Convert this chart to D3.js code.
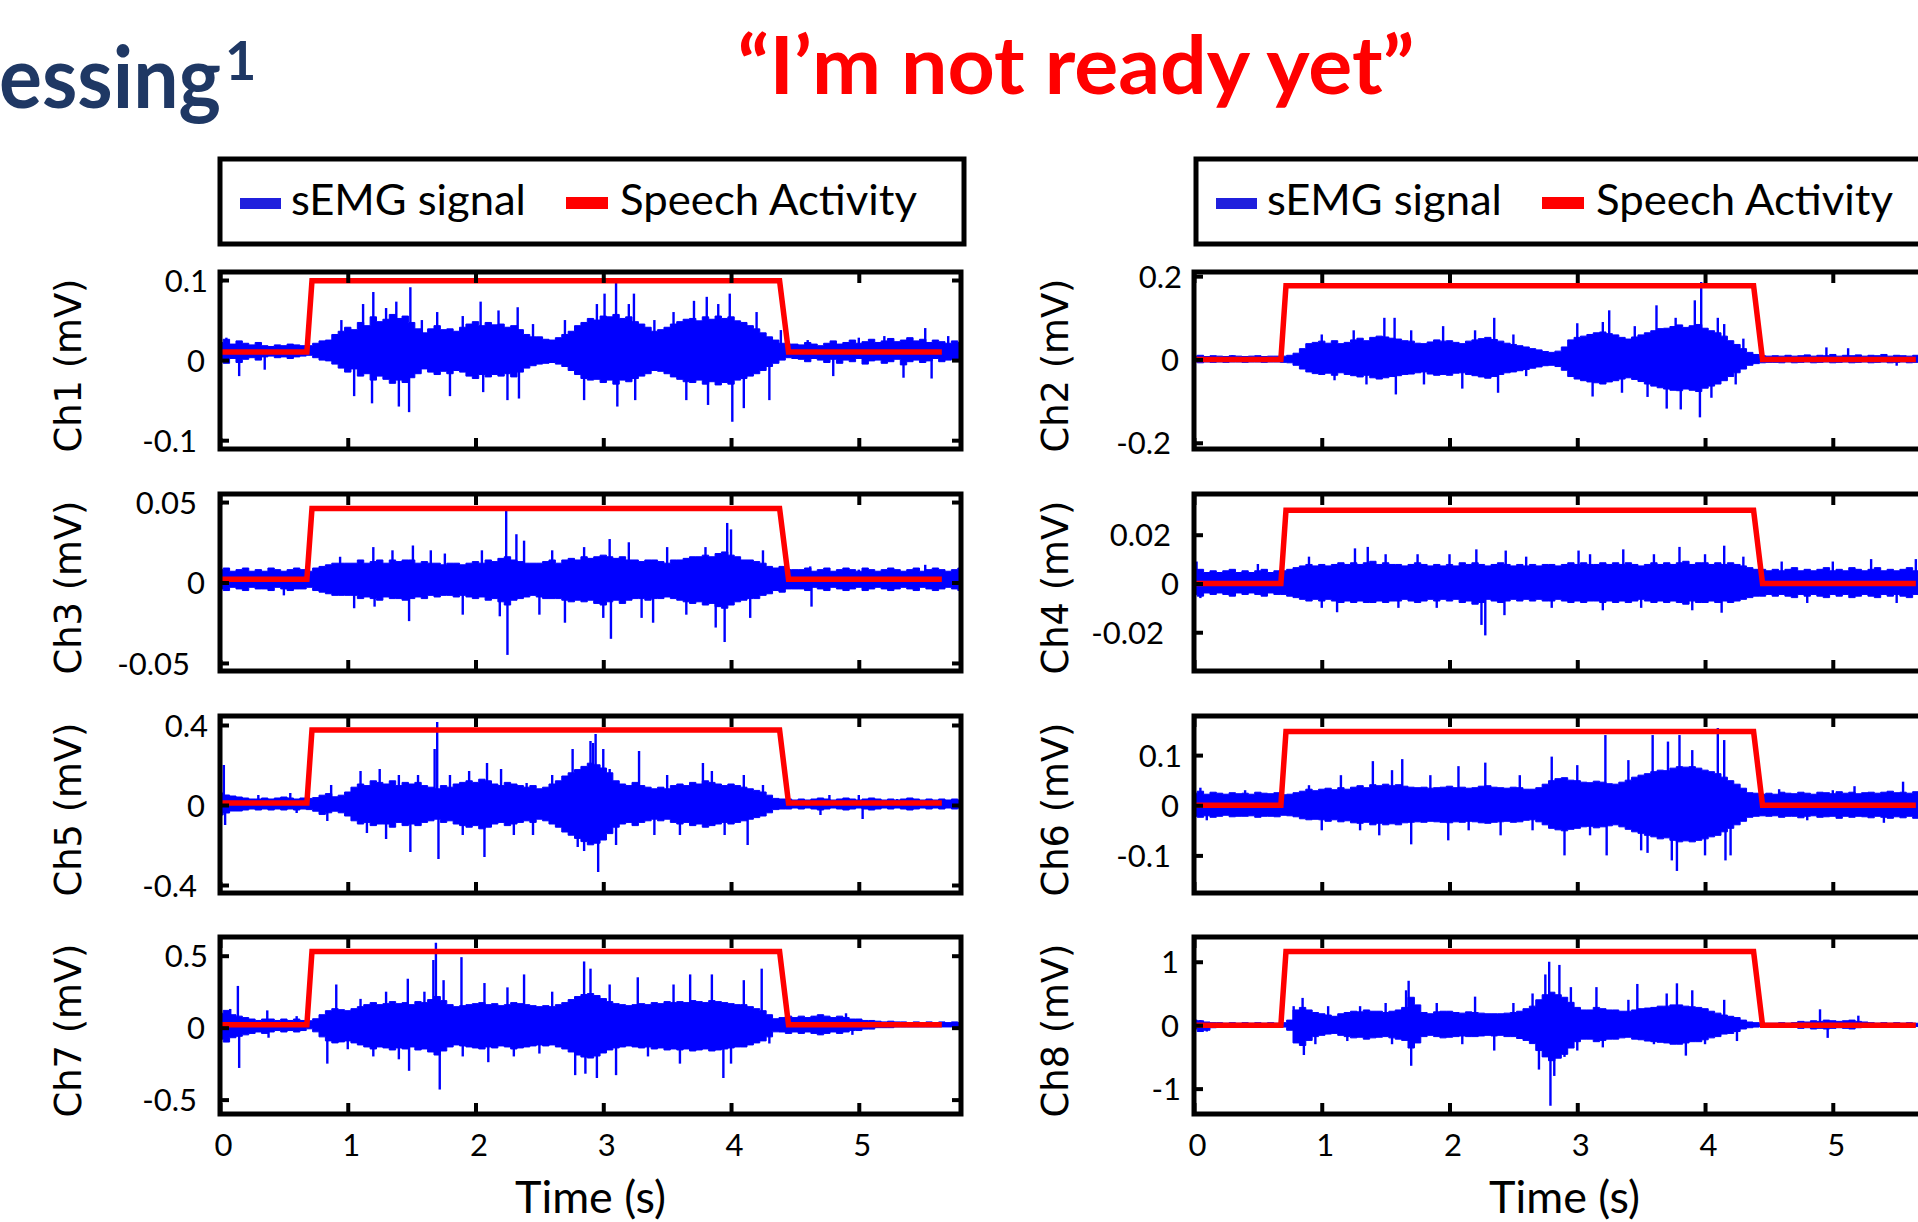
<!DOCTYPE html>
<html><head><meta charset="utf-8">
<script src="https://cdn.jsdelivr.net/npm/d3@7"></script>
<style>body{margin:0;background:#fff;overflow:hidden}svg{display:block}</style>
</head><body>
<svg id="chart" width="1918" height="1222"></svg>
<script>
// ---------------- DATA ----------------
const channels = ["Ch1","Ch2","Ch3","Ch4","Ch5","Ch6","Ch7","Ch8"];
const timeTicks = [0,1,2,3,4,5];
const timeDomain = [0,5.8];
const yTicks = [[-0.1,0,0.1],[-0.2,0,0.2],[-0.05,0,0.05],[-0.02,0,0.02],[-0.4,0,0.4],[-0.1,0,0.1],[-0.5,0,0.5],[-1,0,1]];
const yDomains = [[-0.111,0.11],[-0.215,0.21],[-0.055,0.055],[-0.0359,0.0367],[-0.44,0.445],[-0.175,0.178],[-0.6,0.63],[-1.4,1.39]];
const baselines = [0.012,0,0.002,0,0.005,0,0.02,0];
const speechTimes = [0,0.68,0.72,4.38,4.45,5.65];
const speechOn = [0,0,1,1,0,0];
const speechLow = [0.01,0,0.002,0,0.01,0,0.02,0];
const speechHigh = [0.099,0.177,0.046,0.030,0.375,0.147,0.53,1.16];

// per-0.05 s upper / lower extent of the dense trace (mV)
const fringeTimes = [0,0.05,0.1,0.15,0.2,0.25,0.3,0.35,0.4,0.45,0.5,0.55,0.6,0.65,0.7,0.75,0.8,0.85,0.9,0.95,1,1.05,1.1,1.15,1.2,1.25,1.3,1.35,1.4,1.45,1.5,1.55,1.6,1.65,1.7,1.75,1.8,1.85,1.9,1.95,2,2.05,2.1,2.15,2.2,2.25,2.3,2.35,2.4,2.45,2.5,2.55,2.6,2.65,2.7,2.75,2.8,2.85,2.9,2.95,3,3.05,3.1,3.15,3.2,3.25,3.3,3.35,3.4,3.45,3.5,3.55,3.6,3.65,3.7,3.75,3.8,3.85,3.9,3.95,4,4.05,4.1,4.15,4.2,4.25,4.3,4.35,4.4,4.45,4.5,4.55,4.6,4.65,4.7,4.75,4.8,4.85,4.9,4.95,5,5.05,5.1,5.15,5.2,5.25,5.3,5.35,5.4,5.45,5.5,5.55,5.6,5.65,5.7,5.75,5.8];
const ch1Max = [0.022,0.026,0.020,0.024,0.021,0.019,0.022,0.018,0.017,0.019,0.018,0.020,0.019,0.018,0.018,0.021,0.024,0.025,0.032,0.036,0.041,0.038,0.047,0.043,0.054,0.048,0.051,0.057,0.052,0.055,0.047,0.039,0.034,0.039,0.043,0.038,0.039,0.036,0.041,0.045,0.048,0.043,0.047,0.044,0.045,0.041,0.043,0.038,0.032,0.029,0.029,0.026,0.025,0.028,0.032,0.036,0.043,0.047,0.052,0.050,0.055,0.054,0.057,0.052,0.054,0.048,0.045,0.041,0.036,0.038,0.041,0.045,0.048,0.051,0.052,0.049,0.054,0.051,0.055,0.052,0.054,0.049,0.047,0.043,0.039,0.034,0.029,0.025,0.021,0.020,0.020,0.019,0.022,0.020,0.018,0.021,0.024,0.020,0.022,0.025,0.021,0.023,0.026,0.022,0.024,0.027,0.023,0.025,0.028,0.024,0.026,0.022,0.025,0.023,0.021,0.024,0.022];
const ch1Min = [0.000,-0.004,0.002,-0.003,0.001,0.003,0.000,0.004,0.005,0.003,0.004,0.002,0.004,0.005,0.006,0.003,0.000,-0.001,-0.005,-0.010,-0.015,-0.011,-0.020,-0.017,-0.025,-0.020,-0.024,-0.029,-0.025,-0.028,-0.022,-0.017,-0.011,-0.015,-0.018,-0.014,-0.017,-0.013,-0.015,-0.020,-0.023,-0.018,-0.021,-0.018,-0.020,-0.017,-0.021,-0.015,-0.010,-0.007,-0.005,-0.004,-0.003,-0.005,-0.008,-0.013,-0.018,-0.023,-0.025,-0.024,-0.028,-0.025,-0.030,-0.025,-0.027,-0.023,-0.020,-0.017,-0.013,-0.014,-0.017,-0.021,-0.024,-0.027,-0.028,-0.025,-0.030,-0.027,-0.031,-0.028,-0.030,-0.025,-0.023,-0.020,-0.017,-0.013,-0.008,-0.004,0.000,0.003,0.002,0.001,-0.002,0.002,0.000,-0.003,0.001,-0.004,0.000,-0.002,0.002,-0.005,-0.001,0.000,-0.004,-0.002,0.001,-0.006,-0.002,0.000,-0.003,-0.001,0.002,-0.002,0.000,0.001,-0.001];
const ch2Max = [0.008,0.010,0.007,0.009,0.008,0.007,0.009,0.008,0.007,0.008,0.009,0.007,0.008,0.008,0.008,0.010,0.015,0.026,0.038,0.041,0.044,0.039,0.045,0.038,0.041,0.047,0.051,0.045,0.053,0.056,0.054,0.051,0.049,0.045,0.044,0.039,0.038,0.042,0.047,0.044,0.045,0.041,0.038,0.044,0.047,0.050,0.053,0.048,0.044,0.039,0.036,0.033,0.030,0.026,0.023,0.019,0.017,0.020,0.030,0.047,0.053,0.056,0.060,0.064,0.066,0.062,0.059,0.053,0.049,0.054,0.059,0.064,0.069,0.074,0.075,0.079,0.083,0.077,0.081,0.084,0.075,0.069,0.064,0.056,0.045,0.036,0.026,0.017,0.012,0.009,0.008,0.009,0.008,0.010,0.008,0.009,0.011,0.008,0.010,0.009,0.012,0.008,0.010,0.009,0.011,0.008,0.010,0.009,0.012,0.008,0.010,0.009,0.008,0.010,0.009,0.008,0.010];
const ch2Min = [-0.006,-0.008,-0.006,-0.007,-0.006,-0.007,-0.006,-0.006,-0.007,-0.006,-0.006,-0.007,-0.006,-0.006,-0.007,-0.008,-0.014,-0.023,-0.030,-0.034,-0.036,-0.033,-0.038,-0.032,-0.036,-0.039,-0.042,-0.038,-0.044,-0.047,-0.044,-0.041,-0.039,-0.036,-0.035,-0.032,-0.030,-0.035,-0.038,-0.036,-0.038,-0.033,-0.032,-0.036,-0.039,-0.042,-0.045,-0.041,-0.036,-0.032,-0.030,-0.027,-0.024,-0.021,-0.018,-0.015,-0.014,-0.017,-0.026,-0.041,-0.047,-0.051,-0.054,-0.056,-0.059,-0.054,-0.051,-0.047,-0.044,-0.048,-0.053,-0.059,-0.064,-0.068,-0.071,-0.074,-0.075,-0.071,-0.074,-0.077,-0.069,-0.064,-0.059,-0.051,-0.041,-0.032,-0.023,-0.014,-0.010,-0.008,-0.007,-0.007,-0.008,-0.006,-0.008,-0.007,-0.006,-0.008,-0.007,-0.006,-0.008,-0.007,-0.006,-0.008,-0.007,-0.006,-0.008,-0.007,-0.006,-0.008,-0.007,-0.006,-0.008,-0.007,-0.006,-0.008,-0.007];
const ch3Max = [0.008,0.009,0.007,0.008,0.009,0.007,0.008,0.007,0.009,0.008,0.007,0.008,0.009,0.008,0.007,0.009,0.010,0.011,0.012,0.012,0.012,0.012,0.014,0.012,0.013,0.014,0.012,0.014,0.013,0.014,0.014,0.012,0.013,0.012,0.012,0.011,0.012,0.012,0.011,0.012,0.013,0.012,0.014,0.013,0.015,0.016,0.014,0.013,0.012,0.012,0.012,0.013,0.014,0.012,0.014,0.015,0.014,0.016,0.015,0.016,0.017,0.016,0.015,0.016,0.014,0.014,0.013,0.014,0.014,0.013,0.012,0.014,0.014,0.015,0.016,0.016,0.017,0.016,0.018,0.019,0.017,0.016,0.014,0.014,0.013,0.012,0.010,0.009,0.010,0.008,0.008,0.008,0.009,0.007,0.008,0.009,0.007,0.008,0.009,0.008,0.007,0.009,0.008,0.007,0.008,0.009,0.008,0.007,0.008,0.009,0.007,0.008,0.009,0.008,0.007,0.008,0.009];
const ch3Min = [-0.004,-0.005,-0.003,-0.004,-0.005,-0.003,-0.004,-0.004,-0.005,-0.003,-0.004,-0.005,-0.004,-0.004,-0.003,-0.005,-0.006,-0.007,-0.008,-0.008,-0.008,-0.008,-0.010,-0.009,-0.010,-0.011,-0.009,-0.010,-0.010,-0.011,-0.010,-0.009,-0.010,-0.008,-0.009,-0.008,-0.008,-0.009,-0.008,-0.009,-0.010,-0.009,-0.011,-0.010,-0.012,-0.014,-0.011,-0.010,-0.009,-0.008,-0.009,-0.010,-0.010,-0.010,-0.011,-0.012,-0.011,-0.012,-0.011,-0.013,-0.014,-0.012,-0.011,-0.013,-0.011,-0.010,-0.010,-0.011,-0.010,-0.010,-0.009,-0.010,-0.011,-0.012,-0.013,-0.012,-0.014,-0.013,-0.015,-0.016,-0.014,-0.012,-0.011,-0.010,-0.010,-0.008,-0.007,-0.005,-0.006,-0.004,-0.004,-0.004,-0.005,-0.003,-0.004,-0.005,-0.003,-0.004,-0.005,-0.004,-0.003,-0.005,-0.004,-0.003,-0.004,-0.005,-0.004,-0.003,-0.004,-0.005,-0.003,-0.004,-0.005,-0.004,-0.003,-0.004,-0.005];
const ch4Max = [0.0052,0.0058,0.0045,0.0052,0.0045,0.0052,0.0058,0.0045,0.0052,0.0045,0.0052,0.0058,0.0045,0.0052,0.0052,0.0058,0.0065,0.0072,0.0078,0.0072,0.0078,0.0072,0.0078,0.0085,0.0078,0.0085,0.0078,0.0085,0.0091,0.0078,0.0085,0.0078,0.0078,0.0072,0.0078,0.0085,0.0078,0.0072,0.0078,0.0072,0.0078,0.0072,0.0085,0.0078,0.0085,0.0078,0.0072,0.0078,0.0085,0.0078,0.0072,0.0078,0.0072,0.0078,0.0072,0.0078,0.0078,0.0072,0.0078,0.0085,0.0078,0.0085,0.0078,0.0078,0.0085,0.0078,0.0085,0.0078,0.0085,0.0078,0.0072,0.0078,0.0085,0.0078,0.0085,0.0078,0.0085,0.0091,0.0078,0.0085,0.0085,0.0078,0.0085,0.0078,0.0085,0.0078,0.0072,0.0065,0.0058,0.0058,0.0052,0.0058,0.0052,0.0058,0.0065,0.0052,0.0058,0.0052,0.0058,0.0065,0.0052,0.0058,0.0052,0.0065,0.0058,0.0052,0.0058,0.0065,0.0052,0.0058,0.0052,0.0058,0.0065,0.0052,0.0058,0.0052,0.0058];
const ch4Min = [-0.0045,-0.0052,-0.0039,-0.0045,-0.0039,-0.0045,-0.0052,-0.0039,-0.0045,-0.0039,-0.0045,-0.0052,-0.0039,-0.0045,-0.0045,-0.0052,-0.0058,-0.0065,-0.0072,-0.0065,-0.0072,-0.0065,-0.0072,-0.0078,-0.0072,-0.0078,-0.0072,-0.0078,-0.0078,-0.0072,-0.0078,-0.0072,-0.0072,-0.0065,-0.0072,-0.0078,-0.0072,-0.0065,-0.0072,-0.0065,-0.0072,-0.0065,-0.0078,-0.0072,-0.0085,-0.0078,-0.0065,-0.0072,-0.0078,-0.0072,-0.0065,-0.0072,-0.0065,-0.0072,-0.0065,-0.0072,-0.0072,-0.0065,-0.0072,-0.0078,-0.0072,-0.0078,-0.0072,-0.0072,-0.0078,-0.0072,-0.0078,-0.0072,-0.0078,-0.0072,-0.0065,-0.0072,-0.0078,-0.0072,-0.0078,-0.0072,-0.0078,-0.0085,-0.0072,-0.0078,-0.0078,-0.0072,-0.0078,-0.0072,-0.0078,-0.0072,-0.0065,-0.0058,-0.0052,-0.0052,-0.0045,-0.0052,-0.0045,-0.0052,-0.0058,-0.0045,-0.0052,-0.0045,-0.0052,-0.0058,-0.0045,-0.0052,-0.0045,-0.0058,-0.0052,-0.0045,-0.0052,-0.0058,-0.0045,-0.0052,-0.0045,-0.0052,-0.0058,-0.0045,-0.0052,-0.0045,-0.0052];
const ch5Max = [0.06,0.05,0.045,0.04,0.035,0.03,0.03,0.035,0.03,0.035,0.04,0.035,0.03,0.035,0.033,0.037,0.049,0.057,0.041,0.049,0.065,0.089,0.105,0.097,0.121,0.113,0.105,0.121,0.097,0.113,0.105,0.113,0.097,0.089,0.081,0.097,0.089,0.105,0.113,0.121,0.113,0.129,0.121,0.105,0.097,0.113,0.105,0.097,0.089,0.097,0.081,0.089,0.105,0.121,0.145,0.161,0.177,0.193,0.209,0.201,0.185,0.161,0.121,0.105,0.097,0.113,0.097,0.089,0.081,0.089,0.081,0.097,0.105,0.097,0.113,0.105,0.121,0.113,0.105,0.097,0.105,0.097,0.089,0.081,0.073,0.065,0.049,0.033,0.03,0.03,0.025,0.03,0.025,0.03,0.035,0.03,0.025,0.03,0.035,0.03,0.025,0.03,0.035,0.03,0.025,0.03,0.025,0.03,0.035,0.03,0.025,0.03,0.025,0.03,0.025,0.03,0.025];
const ch5Min = [-0.05,-0.04,-0.03,-0.03,-0.025,-0.02,-0.025,-0.02,-0.025,-0.02,-0.025,-0.02,-0.025,-0.02,-0.023,-0.031,-0.047,-0.039,-0.031,-0.039,-0.055,-0.079,-0.095,-0.087,-0.103,-0.095,-0.095,-0.111,-0.087,-0.103,-0.095,-0.103,-0.087,-0.079,-0.071,-0.087,-0.079,-0.095,-0.103,-0.111,-0.103,-0.119,-0.111,-0.095,-0.087,-0.103,-0.095,-0.087,-0.079,-0.087,-0.071,-0.079,-0.095,-0.111,-0.135,-0.151,-0.167,-0.183,-0.199,-0.191,-0.175,-0.143,-0.111,-0.095,-0.087,-0.103,-0.087,-0.079,-0.071,-0.079,-0.071,-0.087,-0.095,-0.087,-0.103,-0.095,-0.111,-0.103,-0.095,-0.087,-0.095,-0.087,-0.079,-0.071,-0.063,-0.055,-0.039,-0.023,-0.02,-0.02,-0.015,-0.02,-0.015,-0.02,-0.025,-0.02,-0.015,-0.02,-0.025,-0.02,-0.015,-0.02,-0.025,-0.02,-0.015,-0.02,-0.015,-0.02,-0.025,-0.02,-0.015,-0.02,-0.015,-0.02,-0.015,-0.02,-0.015];
const ch6Max = [0.024,0.028,0.022,0.026,0.024,0.022,0.025,0.023,0.024,0.022,0.026,0.024,0.023,0.025,0.021,0.022,0.025,0.028,0.032,0.029,0.032,0.034,0.031,0.035,0.032,0.036,0.039,0.035,0.041,0.039,0.042,0.039,0.041,0.038,0.036,0.035,0.036,0.034,0.035,0.036,0.038,0.035,0.036,0.034,0.035,0.038,0.039,0.036,0.035,0.034,0.036,0.035,0.032,0.032,0.035,0.042,0.049,0.053,0.055,0.050,0.049,0.046,0.045,0.048,0.046,0.043,0.042,0.046,0.050,0.056,0.060,0.063,0.067,0.070,0.069,0.074,0.077,0.076,0.077,0.074,0.070,0.067,0.063,0.056,0.049,0.042,0.034,0.025,0.024,0.022,0.024,0.022,0.026,0.024,0.023,0.026,0.024,0.022,0.026,0.025,0.023,0.027,0.024,0.026,0.023,0.025,0.026,0.024,0.026,0.028,0.025,0.026,0.024,0.027,0.026,0.024,0.025];
const ch6Min = [-0.022,-0.024,-0.021,-0.024,-0.022,-0.020,-0.023,-0.022,-0.022,-0.021,-0.024,-0.022,-0.022,-0.023,-0.020,-0.021,-0.023,-0.027,-0.029,-0.028,-0.029,-0.032,-0.029,-0.033,-0.031,-0.035,-0.036,-0.034,-0.039,-0.036,-0.039,-0.037,-0.039,-0.035,-0.034,-0.033,-0.034,-0.032,-0.033,-0.034,-0.035,-0.033,-0.034,-0.032,-0.033,-0.035,-0.036,-0.034,-0.033,-0.032,-0.034,-0.033,-0.030,-0.029,-0.033,-0.039,-0.046,-0.049,-0.051,-0.048,-0.046,-0.043,-0.042,-0.045,-0.043,-0.041,-0.039,-0.043,-0.048,-0.053,-0.056,-0.060,-0.063,-0.067,-0.065,-0.070,-0.073,-0.071,-0.073,-0.070,-0.067,-0.063,-0.060,-0.053,-0.046,-0.039,-0.032,-0.024,-0.022,-0.021,-0.022,-0.021,-0.024,-0.022,-0.022,-0.025,-0.022,-0.021,-0.024,-0.023,-0.022,-0.026,-0.022,-0.024,-0.022,-0.023,-0.025,-0.022,-0.024,-0.026,-0.023,-0.025,-0.022,-0.026,-0.024,-0.022,-0.023];
const ch7Max = [0.1,0.12,0.09,0.08,0.07,0.06,0.05,0.06,0.06,0.05,0.06,0.05,0.06,0.05,0.048,0.062,0.09,0.118,0.132,0.125,0.118,0.132,0.146,0.16,0.174,0.16,0.167,0.181,0.167,0.174,0.16,0.181,0.174,0.195,0.216,0.188,0.16,0.146,0.153,0.16,0.167,0.174,0.16,0.167,0.153,0.16,0.174,0.167,0.16,0.153,0.146,0.153,0.146,0.16,0.174,0.195,0.216,0.23,0.237,0.223,0.202,0.181,0.167,0.16,0.153,0.16,0.167,0.16,0.174,0.167,0.181,0.174,0.181,0.174,0.188,0.181,0.174,0.188,0.181,0.174,0.167,0.16,0.16,0.146,0.132,0.118,0.09,0.062,0.07,0.08,0.07,0.08,0.07,0.08,0.09,0.08,0.07,0.08,0.07,0.06,0.06,0.05,0.05,0.045,0.04,0.045,0.04,0.04,0.035,0.04,0.035,0.04,0.035,0.04,0.035,0.04,0.035];
const ch7Min = [-0.08,-0.1,-0.07,-0.06,-0.05,-0.04,-0.03,-0.04,-0.03,-0.02,-0.03,-0.02,-0.03,-0.02,-0.008,-0.029,-0.064,-0.092,-0.106,-0.099,-0.092,-0.106,-0.12,-0.134,-0.148,-0.134,-0.141,-0.155,-0.141,-0.148,-0.134,-0.155,-0.148,-0.169,-0.19,-0.162,-0.134,-0.12,-0.127,-0.134,-0.141,-0.148,-0.134,-0.141,-0.127,-0.134,-0.148,-0.141,-0.134,-0.127,-0.12,-0.127,-0.12,-0.134,-0.148,-0.169,-0.19,-0.204,-0.211,-0.197,-0.176,-0.155,-0.141,-0.134,-0.127,-0.134,-0.141,-0.134,-0.148,-0.141,-0.155,-0.148,-0.155,-0.148,-0.162,-0.155,-0.148,-0.162,-0.155,-0.148,-0.141,-0.134,-0.134,-0.12,-0.106,-0.092,-0.064,-0.029,-0.03,-0.04,-0.03,-0.04,-0.03,-0.04,-0.05,-0.04,-0.03,-0.04,-0.03,-0.02,-0.02,-0.01,-0.01,0.0,0.0,0.0,0.005,0.005,0.005,0.005,0.005,0.005,0.005,0.005,0.005,0.005,0.005];
const ch8Max = [0.08,0.07,0.05,0.04,0.04,0.03,0.04,0.03,0.04,0.03,0.04,0.03,0.04,0.03,0.04,0.08,0.24,0.28,0.24,0.2,0.18,0.16,0.14,0.18,0.2,0.22,0.21,0.24,0.22,0.22,0.2,0.22,0.24,0.28,0.44,0.32,0.2,0.18,0.21,0.22,0.22,0.2,0.19,0.21,0.2,0.19,0.18,0.18,0.18,0.19,0.2,0.22,0.26,0.3,0.4,0.48,0.52,0.48,0.44,0.36,0.28,0.24,0.24,0.28,0.26,0.24,0.24,0.22,0.22,0.24,0.26,0.27,0.28,0.3,0.3,0.32,0.32,0.3,0.29,0.28,0.26,0.22,0.19,0.16,0.14,0.12,0.08,0.05,0.04,0.03,0.03,0.03,0.04,0.03,0.04,0.06,0.05,0.07,0.06,0.08,0.07,0.06,0.07,0.08,0.06,0.05,0.04,0.03,0.04,0.03,0.04,0.03,0.04,0.03,0.03,0.04,0.03];
const ch8Min = [-0.06,-0.1,-0.08,-0.04,-0.03,-0.02,-0.03,-0.02,-0.03,-0.02,-0.03,-0.02,-0.03,-0.02,-0.03,-0.08,-0.28,-0.32,-0.24,-0.18,-0.16,-0.14,-0.13,-0.16,-0.18,-0.2,-0.19,-0.22,-0.2,-0.19,-0.18,-0.2,-0.22,-0.24,-0.36,-0.28,-0.18,-0.16,-0.18,-0.2,-0.19,-0.18,-0.17,-0.18,-0.18,-0.17,-0.16,-0.17,-0.16,-0.18,-0.18,-0.21,-0.24,-0.29,-0.4,-0.5,-0.56,-0.52,-0.46,-0.36,-0.26,-0.22,-0.22,-0.26,-0.24,-0.22,-0.22,-0.2,-0.19,-0.22,-0.23,-0.25,-0.26,-0.27,-0.28,-0.3,-0.3,-0.28,-0.26,-0.26,-0.23,-0.2,-0.18,-0.14,-0.13,-0.1,-0.06,-0.04,-0.03,-0.02,-0.02,-0.02,-0.03,-0.02,-0.03,-0.05,-0.04,-0.06,-0.05,-0.06,-0.05,-0.04,-0.05,-0.06,-0.04,-0.03,-0.03,-0.02,-0.03,-0.02,-0.03,-0.02,-0.03,-0.02,-0.02,-0.03,-0.02];

// isolated peaks [time (s), value (mV)]
const ch1Spikes = [[0.05,0.028],[0.15,-0.02],[0.3,0.022],[0.35,-0.012],[0.55,0.02],[0.95,0.05],[1.05,-0.045],[1.12,0.07],[1.19,-0.054],[1.2,0.085],[1.3,0.065],[1.38,0.073],[1.4,-0.058],[1.48,-0.065],[1.49,0.091],[1.58,0.05],[1.7,0.06],[1.8,-0.045],[1.9,0.055],[2.04,0.073],[2.06,-0.04],[2.18,0.062],[2.25,-0.05],[2.33,0.066],[2.34,-0.048],[2.45,0.045],[2.7,0.05],[2.85,-0.05],[2.95,0.07],[3.01,0.083],[3.1,0.098],[3.11,-0.058],[3.2,0.07],[3.24,0.083],[3.25,-0.05],[3.4,0.05],[3.55,0.06],[3.65,-0.05],[3.71,0.074],[3.81,0.079],[3.82,-0.056],[3.9,0.07],[3.99,0.083],[4.01,-0.077],[4.1,-0.06],[4.2,0.06],[4.3,-0.05],[4.39,0.0375],[4.6,0.025],[4.8,-0.02],[5.0,0.028],[5.2,0.03],[5.35,-0.022],[5.52,0.04],[5.57,-0.023],[5.7,0.03]];
const ch2Spikes = [[0.3,0.01],[1.0,0.06],[1.1,-0.05],[1.25,0.07],[1.35,-0.06],[1.49,0.1],[1.57,0.1],[1.58,-0.084],[1.7,0.07],[1.8,-0.06],[1.95,0.08],[2.1,-0.07],[2.2,0.07],[2.35,0.1],[2.38,-0.08],[2.5,0.06],[2.6,-0.04],[3.0,0.087],[3.12,-0.089],[3.2,0.09],[3.25,0.118],[3.35,-0.08],[3.45,0.08],[3.55,-0.09],[3.62,0.13],[3.7,-0.118],[3.77,0.1],[3.81,-0.12],[3.92,0.142],[3.96,-0.139],[3.97,0.186],[4.05,-0.092],[4.1,0.1],[4.15,0.085],[4.24,-0.06],[4.3,0.05],[4.95,0.029],[5.12,0.027],[5.5,-0.015]];
const ch3Spikes = [[0.2,0.009],[0.5,-0.008],[0.94,0.016],[1.05,-0.016],[1.2,0.022],[1.21,-0.015],[1.35,0.02],[1.48,-0.024],[1.51,0.023],[1.65,0.02],[1.76,0.018],[1.9,-0.02],[2.05,0.02],[2.19,-0.021],[2.24,0.045],[2.25,-0.045],[2.32,0.03],[2.38,0.026],[2.5,-0.02],[2.6,0.02],[2.7,-0.025],[2.85,0.022],[3.0,-0.022],[3.05,0.027],[3.06,-0.035],[3.2,0.025],[3.3,-0.022],[3.39,-0.025],[3.5,0.022],[3.65,-0.02],[3.8,0.022],[3.88,-0.028],[3.95,-0.037],[3.97,0.037],[4.0,0.033],[4.15,-0.022],[4.25,0.02],[4.62,0.01],[4.63,-0.015],[5.0,0.008],[5.52,0.011]];
const ch4Spikes = [[0.02,0.009],[0.05,-0.006],[0.5,0.008],[0.9,0.011],[1.0,-0.01],[1.12,-0.0118],[1.26,0.0144],[1.36,0.015],[1.5,0.012],[1.6,-0.01],[1.75,0.012],[1.9,-0.01],[2.0,0.012],[2.21,0.014],[2.25,-0.017],[2.28,-0.0213],[2.43,-0.013],[2.44,0.0135],[2.6,0.011],[2.8,-0.01],[3.01,0.0135],[3.1,0.012],[3.2,-0.011],[3.36,0.014],[3.5,-0.01],[3.6,0.012],[3.8,0.015],[3.9,-0.011],[4.0,0.012],[4.13,-0.012],[4.15,0.0155],[4.3,0.011],[4.6,0.009],[4.8,-0.008],[5.0,0.009],[5.3,0.01],[5.5,-0.008],[5.65,0.01]];
const ch5Spikes = [[0.03,0.2],[0.04,-0.1],[0.3,0.05],[0.55,0.06],[0.6,-0.04],[0.84,-0.08],[0.87,0.1],[1.1,0.17],[1.15,-0.14],[1.25,0.18],[1.3,-0.17],[1.4,0.15],[1.49,-0.235],[1.55,0.15],[1.68,0.28],[1.7,0.415],[1.71,-0.27],[1.8,0.15],[1.9,-0.15],[1.95,0.17],[2.07,-0.26],[2.09,0.21],[2.2,0.18],[2.3,-0.15],[2.4,0.11],[2.45,-0.15],[2.6,0.15],[2.76,0.28],[2.8,-0.21],[2.85,-0.23],[2.9,0.32],[2.92,0.31],[2.94,0.355],[2.96,-0.335],[3.0,0.28],[3.05,0.18],[3.1,-0.2],[3.28,0.27],[3.4,-0.15],[3.5,0.15],[3.6,-0.15],[3.78,0.21],[3.85,0.17],[3.95,-0.15],[4.1,0.15],[4.13,-0.2],[4.25,0.1],[4.7,-0.05],[4.77,0.05],[5.0,0.05],[5.03,-0.07],[5.3,0.03]];
const ch6Spikes = [[0.05,0.035],[0.1,-0.03],[0.4,0.03],[0.9,0.04],[1.0,-0.05],[1.15,0.06],[1.3,-0.05],[1.4,0.088],[1.45,-0.06],[1.55,0.07],[1.63,0.092],[1.7,-0.078],[1.85,0.06],[1.99,-0.07],[2.07,0.078],[2.15,-0.05],[2.28,0.085],[2.4,-0.06],[2.55,0.06],[2.65,-0.05],[2.8,0.097],[2.9,-0.1],[3.0,0.08],[3.1,-0.06],[3.22,0.14],[3.23,-0.1],[3.4,0.09],[3.5,-0.09],[3.55,-0.095],[3.59,0.14],[3.71,0.127],[3.74,-0.11],[3.78,-0.131],[3.8,0.14],[3.9,0.11],[4.0,-0.1],[4.1,0.154],[4.15,0.13],[4.16,-0.11],[4.2,-0.1],[4.58,0.032],[4.8,-0.03],[5.0,0.03],[5.17,0.038],[5.4,-0.035],[5.55,0.047],[5.72,-0.05]];
const ch7Spikes = [[0.05,-0.1],[0.08,0.13],[0.14,0.29],[0.15,-0.28],[0.37,0.12],[0.38,-0.07],[0.6,0.08],[0.84,-0.25],[0.88,0.1],[0.91,0.3],[1.0,-0.15],[1.1,0.2],[1.2,-0.2],[1.3,0.25],[1.4,-0.22],[1.47,0.34],[1.48,-0.3],[1.6,0.25],[1.67,0.47],[1.69,0.59],[1.72,-0.43],[1.75,0.33],[1.89,0.49],[1.9,-0.2],[2.07,0.31],[2.1,-0.24],[2.25,0.28],[2.3,-0.2],[2.38,0.37],[2.5,-0.18],[2.6,0.25],[2.78,-0.33],[2.85,0.46],[2.86,-0.32],[2.9,0.41],[2.95,-0.35],[3.05,0.3],[3.1,-0.33],[3.27,0.35],[3.35,-0.2],[3.55,0.3],[3.6,-0.25],[3.68,0.37],[3.85,0.37],[3.94,-0.35],[4.0,-0.25],[4.1,0.33],[4.24,0.41],[4.3,-0.11],[4.5,0.06],[4.65,0.08],[4.7,-0.05],[4.9,0.1],[4.95,-0.05]];
const ch8Spikes = [[0.05,0.08],[0.1,-0.1],[0.78,0.3],[0.85,0.43],[0.86,-0.47],[0.95,-0.3],[1.05,0.3],[1.2,-0.25],[1.3,0.3],[1.5,0.35],[1.55,-0.3],[1.66,0.55],[1.68,0.7],[1.7,-0.64],[1.72,-0.35],[1.9,0.35],[2.1,-0.3],[2.2,0.45],[2.35,-0.4],[2.5,0.35],[2.65,0.5],[2.7,-0.7],[2.75,0.8],[2.78,1.0],[2.79,-1.27],[2.82,-0.8],[2.86,0.95],[2.9,-0.5],[2.95,0.6],[3.0,-0.4],[3.15,0.6],[3.2,-0.35],[3.4,0.4],[3.47,0.65],[3.6,-0.3],[3.7,0.5],[3.78,0.66],[3.85,-0.48],[3.9,0.55],[4.0,-0.3],[4.15,0.4],[4.25,-0.25],[4.9,0.25],[4.96,-0.2],[5.2,0.15]];

const legendLabels = ["sEMG signal","Speech Activity"];
const titleText = "“I’m not ready yet”";
const headerText = "essing";
const headerSup = "1";
const xLabel = "Time (s)";

const maxes = [ch1Max,ch2Max,ch3Max,ch4Max,ch5Max,ch6Max,ch7Max,ch8Max];
const mins = [ch1Min,ch2Min,ch3Min,ch4Min,ch5Min,ch6Min,ch7Min,ch8Min];
const spikes = [ch1Spikes,ch2Spikes,ch3Spikes,ch4Spikes,ch5Spikes,ch6Spikes,ch7Spikes,ch8Spikes];

// ---------------- LAYOUT / STYLE ----------------
const BLUE = "#0000ff", RED = "#ff0000", NAVY = "#1f3864";
const colLeft = [220, 1194], plotW = 741;
const rowTop = [272, 494, 716, 937], plotH = 177;
const labelGap = {1:15, 2:13, 3:12, 4:23, 5:30};   // gap between y tick label and axis, by label length
const svg = d3.select("#chart");

function fitText(sel, target){
  const w = sel.node().getComputedTextLength();
  if(!w) return;
  const s = target / w;
  const ax = +sel.attr("x") || 0, ay = +sel.attr("y") || 0;
  sel.attr("transform", `translate(${ax},${ay}) scale(${s},1) translate(${-ax},${-ay})`);
}

// header texts
fitText(svg.append("text").attr("x",-1).attr("y",108).attr("font-family","Lato").attr("font-weight",700)
  .attr("font-size",86).attr("fill",NAVY).text(headerText), 222);
svg.append("text").attr("x",225).attr("y",80).attr("font-family","Lato").attr("font-weight",700)
  .attr("font-size",54).attr("fill",NAVY).text(headerSup);
fitText(svg.append("text").attr("x",1076).attr("y",94).attr("text-anchor","middle").attr("font-family","Lato")
  .attr("font-weight",700).attr("font-size",80).attr("fill",RED).text(titleText), 677);

// legends
[220,1196].forEach(lx=>{
  const g = svg.append("g");
  g.append("rect").attr("x",lx).attr("y",159).attr("width",744).attr("height",85)
    .attr("fill","#fff").attr("stroke","#000").attr("stroke-width",5);
  g.append("rect").attr("x",lx+20).attr("y",198).attr("width",41).attr("height",11).attr("fill","#2020dd");
  g.append("rect").attr("x",lx+346).attr("y",197).attr("width",42).attr("height",12).attr("fill",RED);
  fitText(g.append("text").attr("x",lx+71).attr("y",215).attr("font-family","Lato").attr("font-size",43).text(legendLabels[0]), 235);
  fitText(g.append("text").attr("x",lx+400).attr("y",215).attr("font-family","Lato").attr("font-size",43).text(legendLabels[1]), 297);
});

channels.forEach((name,i)=>{
  const col = i%2, row = Math.floor(i/2);
  const x0 = colLeft[col], y0 = rowTop[row];
  const x = d3.scaleLinear().domain(timeDomain).range([x0, x0+plotW]);
  const y = d3.scaleLinear().domain(yDomains[i]).range([y0+plotH, y0]);
  const g = svg.append("g");
  const clipId = "clip"+i;
  svg.append("clipPath").attr("id",clipId).append("rect")
    .attr("x",x0).attr("y",y0).attr("width",plotW).attr("height",plotH);
  const content = g.append("g").attr("clip-path",`url(#${clipId})`);
  const base = baselines[i];

  // dense trace: stepped band between per-bin minimum and maximum
  content.append("path").datum(d3.zip(fringeTimes, maxes[i], mins[i]))
    .attr("d", d3.area().curve(d3.curveStep).x(d=>x(d[0])).y0(d=>y(d[2])).y1(d=>y(d[1])))
    .attr("fill",BLUE).attr("stroke",BLUE).attr("stroke-width",1);
  // isolated peaks
  content.selectAll("line.spike").data(spikes[i]).join("line").attr("class","spike")
    .attr("x1",d=>x(d[0])).attr("x2",d=>x(d[0]))
    .attr("y1",y(base)).attr("y2",d=>y(d[1]))
    .attr("stroke",BLUE).attr("stroke-width",2.4);
  // speech activity
  content.append("path")
    .datum(speechTimes.map((t,k)=>[t, speechOn[k] ? speechHigh[i] : speechLow[i]]))
    .attr("d", d3.line().x(d=>x(d[0])).y(d=>y(d[1])))
    .attr("fill","none").attr("stroke",RED).attr("stroke-width",5.5).attr("stroke-linejoin","miter");

  // axes (inward ticks on all four sides)
  const styleAxis = a => { a.select(".domain").remove(); a.selectAll(".tick line").attr("stroke","#000").attr("stroke-width",4); };
  const bottom = g.append("g").attr("transform",`translate(0,${y0+plotH})`)
    .call(d3.axisBottom(x).tickValues(timeTicks).tickSize(-11).tickFormat(row===3 ? d3.format("d") : ""))
    .call(styleAxis);
  bottom.selectAll(".tick text").attr("x",3).attr("y",42).attr("dy",null).attr("fill","#000")
    .attr("font-family","Lato").attr("font-size",31);
  g.append("g").attr("transform",`translate(0,${y0})`)
    .call(d3.axisTop(x).tickValues(timeTicks).tickSize(-11).tickFormat("")).call(styleAxis);
  const left = g.append("g").attr("transform",`translate(${x0},0)`)
    .call(d3.axisLeft(y).tickValues(yTicks[i]).tickSize(-9).tickFormat(d=>String(d)))
    .call(styleAxis);
  left.selectAll(".tick text").attr("x",d=>-(labelGap[String(d).length] || 13)).attr("dy","0.36em").attr("fill","#000")
    .attr("font-family","Lato").attr("font-size",31);
  g.append("g").attr("transform",`translate(${x0+plotW},0)`)
    .call(d3.axisRight(y).tickValues(yTicks[i]).tickSize(-9).tickFormat("")).call(styleAxis);

  g.append("rect").attr("x",x0).attr("y",y0).attr("width",plotW).attr("height",plotH)
    .attr("fill","none").attr("stroke","#000").attr("stroke-width",5);

  // channel label
  const lx = col===0 ? 68 : 1055;
  const lab = g.append("g").attr("transform",`translate(${lx},${y0+plotH/2+5}) rotate(-90)`)
    .append("text").attr("x",0).attr("y",0).attr("text-anchor","middle").attr("dominant-baseline","central")
    .attr("font-family","DejaVu Sans").attr("font-size",37).text(`${name} (mV)`);
  fitText(lab, 174);

  if(row===3){
    fitText(g.append("text").attr("x",x0+plotW/2).attr("y",1213).attr("text-anchor","middle")
      .attr("font-family","Lato").attr("font-size",44).text(xLabel), 151);
  }
});
</script>
</body></html>
